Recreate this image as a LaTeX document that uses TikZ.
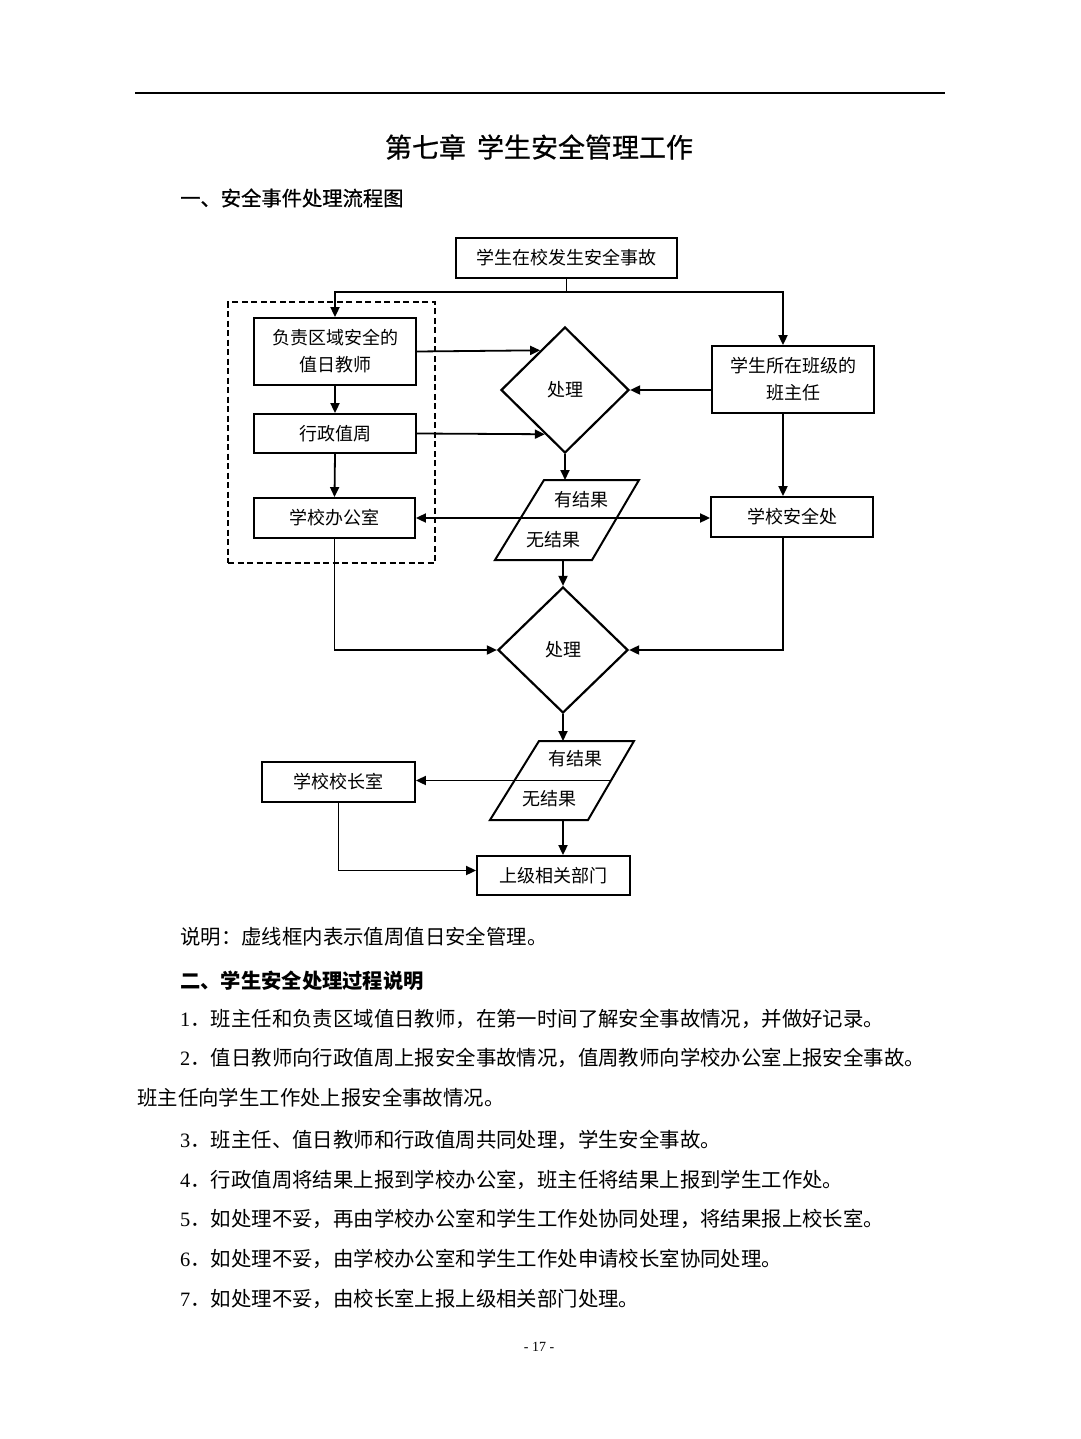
\documentclass[tikz,border=0pt]{standalone}
\usepackage{fontspec}
\setmainfont{Noto Sans CJK SC}
\newfontfamily\heiti[FakeBold=0.7]{Noto Sans CJK SC}
\newfontfamily\lser{Liberation Serif}
\usetikzlibrary{arrows.meta,shapes.geometric,calc}
\tikzset{
  fbox/.style={draw, line width=1.8pt, inner sep=0pt, align=center, font=\fontsize{18}{27}\selectfont},
  dia/.style={draw, diamond, line width=2.2pt, inner sep=0pt, font=\fontsize{18}{27}\selectfont},
  ln/.style={line width=1.8pt},
  pg/.style={line width=2pt, line join=miter},
  arr/.style={line width=1.8pt, -{Triangle[length=10pt,width=9pt]}},
  dbl/.style={line width=1.8pt, {Triangle[length=10pt,width=9pt]}-{Triangle[length=10pt,width=9pt]}},
  lbl/.style={inner sep=0pt, font=\fontsize{18}{22}\selectfont},
  body/.style={anchor=west, inner sep=0pt, font=\fontsize{20.4}{24}\selectfont},
  frame/.style={draw, line width=1.8pt, dash pattern=on 6pt off 3.5pt, inner sep=0pt},
}
\begin{document}
\begin{tikzpicture}[x=1pt,y=-1pt]
\fill[white] (0,0) rectangle (1080,1439);
\useasboundingbox (0,0) rectangle (1080,1439);

% header
\draw[line width=2.2pt] (135,93) -- (945,93);
\node[inner sep=0pt, font=\heiti\fontsize{27}{32}\selectfont] (title) at (539,147) {第七章\hspace{11pt}学生安全管理工作};
\node[anchor=west, inner sep=0pt, font=\heiti\fontsize{20.3}{24}\selectfont] (h1) at (180,198) {一、安全事件处理流程图};

% dashed frame
\node[frame, minimum width=207, minimum height=261] (F) at (331.5,432.5) {};

% nodes
\node[fbox, minimum width=221, minimum height=40] (T) at (566.5,258) {学生在校发生安全事故};
\node[fbox, minimum width=162, minimum height=67] (B1) at (335,351.5) {负责区域安全的\\值日教师};
\node[fbox, minimum width=162, minimum height=39] (B2) at (335,433.5) {行政值周};
\node[fbox, minimum width=161, minimum height=40] (B3) at (334.5,518) {学校办公室};
\node[dia, minimum width=128, minimum height=126] (D1) at (565,390) {处理};
\node[fbox, minimum width=162, minimum height=67] (C) at (793,379.5) {学生所在班级的\\班主任};
\node[fbox, minimum width=162, minimum height=40] (S) at (792,517) {学校安全处};
\node[dia, minimum width=130, minimum height=126] (D2) at (563,650) {处理};
\node[fbox, minimum width=153, minimum height=40] (K) at (338.5,782) {学校校长室};
\node[fbox, minimum width=153, minimum height=39] (U) at (553.5,875.5) {上级相关部门};

% parallelogram 1
\coordinate (P1a) at (544,480);
\coordinate (P1b) at (639,480);
\coordinate (P1c) at (592,560);
\coordinate (P1d) at (495,560);
\coordinate (P1u) at (563,560);
\draw[pg] (P1a) -- (P1b) -- (P1c) -- (P1d) -- cycle;
\node[lbl] (P1y) at (581,500) {有结果};
\node[lbl] (P1n) at (553,540) {无结果};

% parallelogram 2
\coordinate (P2a) at (539,741);
\coordinate (P2b) at (634,741);
\coordinate (P2c) at (588,820);
\coordinate (P2d) at (490,820);
\coordinate (P2u) at (563,820);
\coordinate (P2r) at (611,780.5);
\draw[pg] (P2a) -- (P2b) -- (P2c) -- (P2d) -- cycle;
\node[lbl] (P2y) at (575,759) {有结果};
\node[lbl] (P2n) at (549,799) {无结果};

% connectors
\coordinate (J) at (566.5,292);
\coordinate (xr) at (783,0);
\draw[ln] (T.south) -- (J);
\draw[arr] (J) -| (B1.north);
\draw[arr] (J) -| (C.north -| xr);
\draw[arr] (B1.south) -- (B2.north);
\draw[arr] (B2.south) -- (B3.north);
\draw[arr] (B1.east) -- ($(D1.north)!0.381!(D1.west)$);
\draw[arr] (B2.east) -- ($(D1.west)!0.69!(D1.south)$);
\draw[arr] (C.west |- D1.east) -- (D1.east);
\draw[arr] (C.south -| xr) -- (S.north -| xr);
\draw[dbl] (B3.east) -- (B3.east -| S.west);
\draw[arr] (D1.south) -- (D1.south |- P1a);
\draw[arr] (P1u) -- (D2.north);
\draw[arr] (B3.south) |- (D2.west);
\draw[arr] (S.south -| xr) |- (D2.east);
\draw[arr] (D2.south) -- (D2.south |- P2a);
\draw[arr] (P2r) -- (P2r -| K.east);
\draw[arr] (P2u) -- (P2u |- U.north);
\draw[arr] (K.south) |- ($(U.west)+(0,-5)$);

% text below
\node[body] (s0) at (180,937) {说明：虚线框内表示值周值日安全管理。};
\node[body, font=\fontsize{20.3}{24}\selectfont\bfseries] (h2) at (180,981) {二、学生安全处理过程说明};
\node[body] (t1) at (180,1019) {{\lser 1}．班主任和负责区域值日教师，在第一时间了解安全事故情况，并做好记录。};
\node[body] (t2) at (180,1058) {{\lser 2}．值日教师向行政值周上报安全事故情况，值周教师向学校办公室上报安全事故。};
\node[body] (t2b) at (137,1098) {班主任向学生工作处上报安全事故情况。};
\node[body] (t3) at (180,1140) {{\lser 3}．班主任、值日教师和行政值周共同处理，学生安全事故。};
\node[body] (t4) at (180,1180) {{\lser 4}．行政值周将结果上报到学校办公室，班主任将结果上报到学生工作处。};
\node[body] (t5) at (180,1219) {{\lser 5}．如处理不妥，再由学校办公室和学生工作处协同处理，将结果报上校长室。};
\node[body] (t6) at (180,1259) {{\lser 6}．如处理不妥，由学校办公室和学生工作处申请校长室协同处理。};
\node[body] (t7) at (180,1299) {{\lser 7}．如处理不妥，由校长室上报上级相关部门处理。};
\node[inner sep=0pt, font=\lser\fontsize{14}{16}\selectfont] (pgn) at (539,1347) {- 17 -};
\end{tikzpicture}
\end{document}
